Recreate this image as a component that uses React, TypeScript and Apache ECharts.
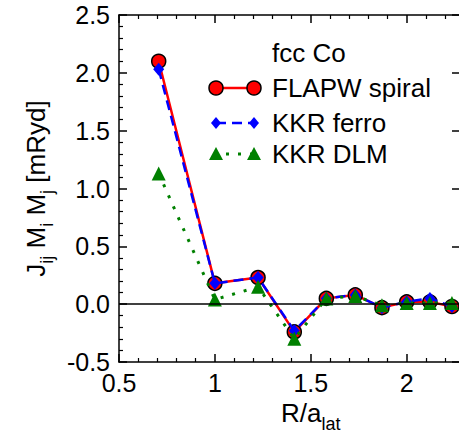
import React, { useEffect, useRef } from "react";
import * as echarts from "echarts";

const xVals = [0.707, 1.0, 1.225, 1.414, 1.581, 1.732, 1.871, 2.0, 2.121, 2.236];
const flapwSpiral = [2.1, 0.18, 0.23, -0.24, 0.05, 0.08, -0.03, 0.02, 0.02, -0.02];
const kkrFerro = [2.03, 0.18, 0.23, -0.23, 0.05, 0.08, -0.03, 0.02, 0.05, -0.02];
const kkrDlm = [1.13, 0.04, 0.15, -0.3, 0.05, 0.07, -0.01, 0.01, 0.01, 0.01];
const seriesNames = ["FLAPW spiral", "KKR ferro", "KKR DLM"];
const legendTitle = "fcc Co";

const FONT = "Liberation Sans, Arial, Helvetica, sans-serif";

const pair = (ys: number[]) => xVals.map((x, i) => [x, ys[i]]);

export default function App() {
  const ref = useRef<HTMLDivElement>(null);
  useEffect(() => {
    if (!ref.current) return;
    const chart = echarts.init(ref.current, null, { renderer: "svg" });
    const rich = {
      m: { fontSize: 26, fontFamily: FONT, color: "#000", lineHeight: 30, verticalAlign: "top" },
      s: { fontSize: 18, fontFamily: FONT, color: "#000", lineHeight: 20, verticalAlign: "top", padding: [15, 0, 0, 0] },
    };
    const axisLine = { show: true, onZero: false, lineStyle: { color: "#000", width: 1.5 } };
    const tick = { show: true, inside: true, length: 8, lineStyle: { color: "#000", width: 1.5 } };
    const minor = { show: true, splitNumber: 5, length: 4, lineStyle: { color: "#000", width: 1.2 } };
    const lx1 = 216, lx2 = 254, tx = 272;
    const rows = [88, 123, 154];
    const diamond = (cx: number, cy: number) => ({
      type: "polygon",
      shape: { points: [[cx, cy - 6], [cx + 5, cy], [cx, cy + 6], [cx - 5, cy]] },
      style: { fill: "#0000ff" },
    });
    const tri = (cx: number, cy: number) => ({
      type: "polygon",
      shape: { points: [[cx, cy - 7], [cx + 7, cy + 6], [cx - 7, cy + 6]] },
      style: { fill: "#008000" },
    });
    const circ = (cx: number, cy: number) => ({
      type: "circle",
      shape: { cx, cy, r: 7 },
      style: { fill: "#ff0000", stroke: "#000", lineWidth: 1.5 },
    });
    const txt = (t: string, y: number) => ({
      type: "text",
      x: tx,
      y,
      style: { text: t, fontSize: 26, fontFamily: FONT, fill: "#000", verticalAlign: "middle", align: "left" },
    });
    chart.setOption({
      animation: false,
      backgroundColor: "#fff",
      grid: [
        { left: 119, top: 15, width: 383.6, height: 347, containLabel: false, outerBoundsMode: "none" },
        { left: 119, top: 15, width: 341, height: 347, containLabel: false, outerBoundsMode: "none" },
      ],
      xAxis: [
        {
          type: "value",
          gridIndex: 0,
          position: "bottom",
          min: 0.5,
          max: 2.5,
          interval: 0.5,
          axisLine,
          axisTick: tick,
          minorTick: minor,
          splitLine: { show: false },
          axisLabel: {
            color: "#000",
            fontSize: 25,
            fontFamily: FONT,
            margin: 8,
            formatter: (v: number) => (v > 2.3 ? "" : String(v)),
          },
          name: "{m|R/a}{s|lat}",
          nameLocation: "middle",
          nameGap: 38,
          nameTextStyle: { rich, align: "center" },
        },
        {
          type: "value",
          gridIndex: 0,
          position: "top",
          min: 0.5,
          max: 2.5,
          interval: 0.5,
          axisLine,
          axisTick: tick,
          minorTick: minor,
          splitLine: { show: false },
          axisLabel: { show: false },
        },
        {
          type: "value",
          gridIndex: 1,
          show: false,
          min: 0,
          max: 1,
          axisLine: { onZero: false },
        },
      ],
      yAxis: [
        {
          type: "value",
          gridIndex: 0,
          position: "left",
          min: -0.5,
          max: 2.5,
          interval: 0.5,
          axisLine,
          axisTick: tick,
          minorTick: minor,
          splitLine: { show: false },
          axisLabel: {
            color: "#000",
            fontSize: 25,
            fontFamily: FONT,
            margin: 9,
            formatter: (v: number) => v.toFixed(1),
          },
          name: "{m|J}{s|ij}{m| M}{s|i}{m| M}{s|j}{m| [mRyd]}",
          nameLocation: "middle",
          nameGap: 63,
          nameTextStyle: { rich },
        },
        {
          type: "value",
          gridIndex: 1,
          position: "right",
          min: -0.5,
          max: 2.5,
          interval: 0.5,
          axisLine,
          axisTick: tick,
          splitLine: { show: false },
          axisLabel: { show: false },
        },
      ],
      series: [
        {
          name: seriesNames[0],
          type: "line",
          data: pair(flapwSpiral),
          symbol: "circle",
          symbolSize: 14,
          itemStyle: { color: "#ff0000", borderColor: "#000", borderWidth: 1.5 },
          lineStyle: { color: "#ff0000", width: 2.5 },
          markLine: {
            silent: true,
            symbol: ["none", "none"],
            label: { show: false },
            lineStyle: { color: "#000", width: 1.5, type: "solid" },
            data: [{ yAxis: 0 }],
          },
          z: 2,
        },
        {
          name: seriesNames[1],
          type: "line",
          data: pair(kkrFerro),
          symbol: "diamond",
          symbolSize: [11, 13],
          itemStyle: { color: "#0000ff" },
          lineStyle: { color: "#0000ff", width: 2.5, type: [10, 6] },
          z: 3,
        },
        {
          name: seriesNames[2],
          type: "line",
          data: pair(kkrDlm),
          symbol: "triangle",
          symbolSize: 14,
          itemStyle: { color: "#008000" },
          lineStyle: { color: "#008000", width: 3, type: [3, 9] },
          z: 4,
        },
      ],
      graphic: [
        txt(legendTitle, 53),
        { type: "line", shape: { x1: lx1, y1: rows[0], x2: lx2, y2: rows[0] }, style: { stroke: "#ff0000", lineWidth: 2.5 } },
        circ(lx1, rows[0]),
        circ(lx2, rows[0]),
        txt(seriesNames[0], rows[0]),
        { type: "line", shape: { x1: lx1, y1: rows[1], x2: lx2, y2: rows[1] }, style: { stroke: "#0000ff", lineWidth: 2.5, lineDash: [10, 6] } },
        diamond(lx1, rows[1]),
        diamond(lx2, rows[1]),
        txt(seriesNames[1], rows[1]),
        { type: "line", shape: { x1: lx1, y1: rows[2], x2: lx2, y2: rows[2] }, style: { stroke: "#008000", lineWidth: 3, lineDash: [3, 9], lineDashOffset: -10 } },
        tri(lx1, rows[2]),
        tri(lx2, rows[2]),
        txt(seriesNames[2], rows[2]),
      ],
    });
    return () => chart.dispose();
  }, []);
  return (
    <div
      ref={ref}
      style={{ position: "absolute", left: 0, top: 0, width: 459, height: 439, background: "#fff" }}
    />
  );
}
